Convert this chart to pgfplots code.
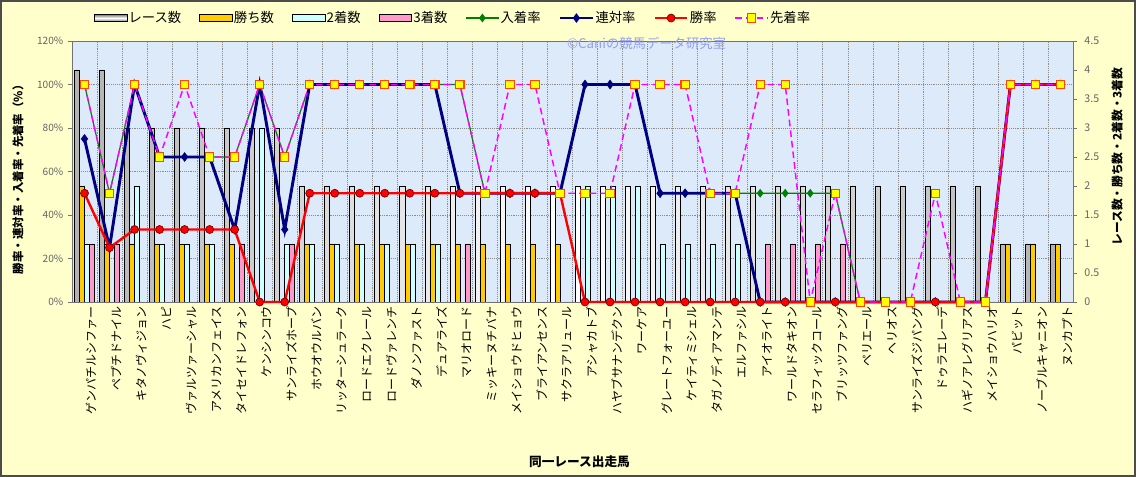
\documentclass[border=0pt]{standalone}
\usepackage{fontspec}
\setmainfont{Noto Sans CJK JP}
\usepackage{pgfplots}
\pgfplotsset{compat=1.18}
\usepackage{pgfplotstable}

\definecolor{bgyellow}{RGB}{255,255,204}
\definecolor{plotbg}{RGB}{221,234,250}
\definecolor{gold}{RGB}{255,204,0}
\definecolor{lcyan}{RGB}{204,255,255}
\definecolor{lpink}{RGB}{255,153,204}
\definecolor{navy}{RGB}{0,0,128}
\definecolor{ngreen}{RGB}{0,128,0}
\definecolor{nred}{RGB}{255,0,0}
\definecolor{nmag}{RGB}{255,0,255}
\definecolor{nyel}{RGB}{255,255,0}
\definecolor{orred}{RGB}{255,70,0}
\definecolor{wm}{RGB}{150,160,235}
\definecolor{ticktext}{RGB}{100,100,100}

\pgfplotstableread{
x R W S T nyu ren win sen
0 4 2 1 1 100 75 50 100
1 4 1 0 1 50 25 25 50
2 3 1 2 0 100 100 33.33 100
3 3 1 1 0 66.67 66.67 33.33 66.67
4 3 1 1 0 66.67 66.67 33.33 100
5 3 1 1 0 66.67 66.67 33.33 66.67
6 3 1 0 1 66.67 33.33 33.33 66.67
7 3 0 3 0 100 100 0 100
8 3 0 1 1 66.67 33.33 0 66.67
9 2 1 1 0 100 100 50 100
10 2 1 1 0 100 100 50 100
11 2 1 1 0 100 100 50 100
12 2 1 1 0 100 100 50 100
13 2 1 1 0 100 100 50 100
14 2 1 1 0 100 100 50 100
15 2 1 0 1 100 50 50 100
16 2 1 0 0 50 50 50 50
17 2 1 0 0 50 50 50 100
18 2 1 0 0 50 50 50 100
19 2 1 0 0 50 50 50 50
20 2 0 2 0 100 100 0 50
21 2 0 2 0 100 100 0 50
22 2 0 2 0 100 100 0 100
23 2 0 1 0 50 50 0 100
24 2 0 1 0 50 50 0 100
25 2 0 1 0 50 50 0 50
26 2 0 1 0 50 50 0 50
27 2 0 0 1 50 0 0 100
28 2 0 0 1 50 0 0 100
29 2 0 0 1 50 0 0 0
30 2 0 0 1 50 0 0 50
31 2 0 0 0 0 0 0 0
32 2 0 0 0 0 0 0 0
33 2 0 0 0 0 0 0 0
34 2 0 0 0 0 0 0 50
35 2 0 0 0 0 0 0 0
36 2 0 0 0 0 0 0 0
37 1 1 0 0 100 100 100 100
38 1 1 0 0 100 100 100 100
39 1 1 0 0 100 100 100 100
}\data

\pgfplotsset{
  barlegend/.style={legend image code/.code={\draw[##1] (0pt,-2.6pt) rectangle (24.5pt,2.6pt);}},
}

\begin{document}
\begin{tikzpicture}
\useasboundingbox (0,0) rectangle (852pt,357.75pt);
\fill[bgyellow] (0,0) rectangle (852pt,357.75pt);
\draw[line width=1.2pt, black!70] (0.6pt,0.6pt) rectangle (851.4pt,357.15pt);

\begin{axis}[
  at={(54pt,131.25pt)}, anchor=south west,
  scale only axis, width=750.75pt, height=195.75pt,
  xmin=-0.5, xmax=39.5, ymin=0, ymax=4.5,
  axis background/.style={fill=plotbg},
  axis line style={black!55},
  /pgf/number format/assume math mode=true,
  xtick={0,...,39},
  xticklabels={ゲンパチルシファー,ペプチドナイル,キタノヴィジョン,ハピ,ヴァルツァーシャル,アメリカンフェイス,タイセイドレフォン,ケンシンコウ,サンライズホープ,ホウオウルバン,リッターシュラーク,ロードエクレール,ロードヴァレンチ,ダノンファスト,デュアライズ,マリオロード,ミッキーヌチバナ,メイショウドヒョウ,ブライアンセンス,サクラアリュール,アシャカトブ,ハヤブサナンデクン,ワーケア,グレートフォーユー,ケイティミシェル,タガノディアマンテ,エルファシル,アイオライト,ワールドタキオン,セラフィックコール,ブリッツファング,ペリエール,ヘリオス,サンライズジパング,ドゥラエレーデ,ハギノアレグリアス,メイショウハリオ,パビット,ノーブルキャニオン,ヌンカプト},
  xticklabel style={rotate=90, anchor=east, font=\fontsize{9}{9}\selectfont, inner sep=0pt, yshift=-5pt},
  xtick style={draw=none},
  minor xtick={-0.5,0.5,...,39.5},
  xminorgrids=true,
  ytick={0,0.5,...,4.5},
  minor ytick={0.75,1.5,2.25,3,3.75},
  yminorgrids=true,
  minor tick length=0pt,
  minor grid style={black!45, densely dotted, line width=0.4pt},
  xtick pos=bottom,
  ytick pos=right, yticklabel pos=right,
  tick align=outside, major tick length=3pt,
  ytick style={black!55},
  yticklabel style={font=\fontsize{8}{8}\selectfont, text=ticktext, xshift=2pt},
  ylabel={レース数・勝ち数・2着数・3着数},
  ylabel style={at={(axis description cs:1.044,0.557)}, anchor=center, font=\bfseries\fontsize{8.8}{10}\selectfont},
  xlabel={同一レース出走馬},
  xlabel style={at={(axis description cs:0.507,-0.61)}, anchor=center, font=\bfseries\fontsize{9.5}{10}\selectfont},
]
\addplot[ybar, bar width=0.2, bar shift=-0.3, draw=black, line width=0.5pt, left color=black!30, right color=black!30, middle color=white] table[x=x,y=R]{\data};
\addplot[ybar, bar width=0.2, bar shift=-0.1, draw=black, line width=0.5pt, fill=gold] table[x=x,y=W]{\data};
\addplot[ybar, bar width=0.2, bar shift=0.1, draw=black, line width=0.5pt, fill=lcyan] table[x=x,y=S]{\data};
\addplot[ybar, bar width=0.2, bar shift=0.3, draw=black, line width=0.5pt, fill=lpink] table[x=x,y=T]{\data};
\end{axis}

\begin{axis}[
  at={(54pt,131.25pt)}, anchor=south west,
  scale only axis, width=750.75pt, height=195.75pt,
  xmin=-0.5, xmax=39.5, ymin=0, ymax=120,
  clip=false,
  axis line style={draw=none},
  xtick=\empty,
  ytick={0,20,...,120},
  ytick pos=left,
  tick align=outside, major tick length=3pt,
  ytick style={black!55},
  /pgf/number format/assume math mode=true,
  yticklabel={\pgfmathprintnumber{\tick}\%},
  yticklabel style={font=\fontsize{7.6}{8}\selectfont, text=ticktext},
  ylabel={勝率・連対率・入着率・先着率（\%）},
  ylabel style={at={(axis description cs:-0.054,0.48)}, anchor=center, font=\bfseries\fontsize{8.6}{10}\selectfont},
  legend columns=8,
  legend image code/.code={\draw[mark repeat=2,mark phase=2,#1] plot coordinates {(0pt,0pt) (12.25pt,0pt) (24.5pt,0pt)};},
  legend style={at={(axis description cs:0.381,1.088)}, anchor=center, draw=none, fill=none,
    font=\fontsize{10}{11}\selectfont, /tikz/every even column/.append style={column sep=11.5pt},
    /tikz/every odd column/.append style={column sep=-1pt}},
]
\addlegendimage{barlegend, draw=black, line width=0.5pt, top color=black!50, bottom color=black!50, middle color=white}
\addlegendentry{レース数}
\addlegendimage{barlegend, draw=black, line width=0.5pt, fill=gold}
\addlegendentry{勝ち数}
\addlegendimage{barlegend, draw=black, line width=0.5pt, fill=lcyan}
\addlegendentry{2着数}
\addlegendimage{barlegend, draw=black, line width=0.5pt, fill=lpink}
\addlegendentry{3着数}

\addplot[color=ngreen, line width=0.9pt, mark=diamond*, mark size=2.6pt, mark options={solid, fill=ngreen, draw=ngreen}] table[x=x,y=nyu]{\data};
\addlegendentry{入着率}
\addplot[color=navy, line width=2.2pt, mark=diamond*, mark size=3.2pt, mark options={solid, fill=navy, draw=navy, line width=0.5pt}] table[x=x,y=ren]{\data};
\addlegendentry{連対率}
\addplot[color=nred, line width=1.8pt, mark=*, mark size=3pt, mark options={solid, fill=nred, draw=black!60!red, line width=0.5pt}] table[x=x,y=win]{\data};
\addlegendentry{勝率}
\addplot[color=nmag, line width=1.1pt, dash pattern=on 5pt off 3pt, mark=square*, mark size=3.1pt, mark options={solid, fill=nyel, draw=orred, line width=0.8pt}] table[x=x,y=sen]{\data};
\addlegendentry{先着率}

\node[text=wm, font=\fontsize{10}{10}\selectfont, anchor=center] at (axis description cs:0.574,0.992) {©Caniの競馬データ研究室};
\end{axis}
\end{tikzpicture}
\end{document}
